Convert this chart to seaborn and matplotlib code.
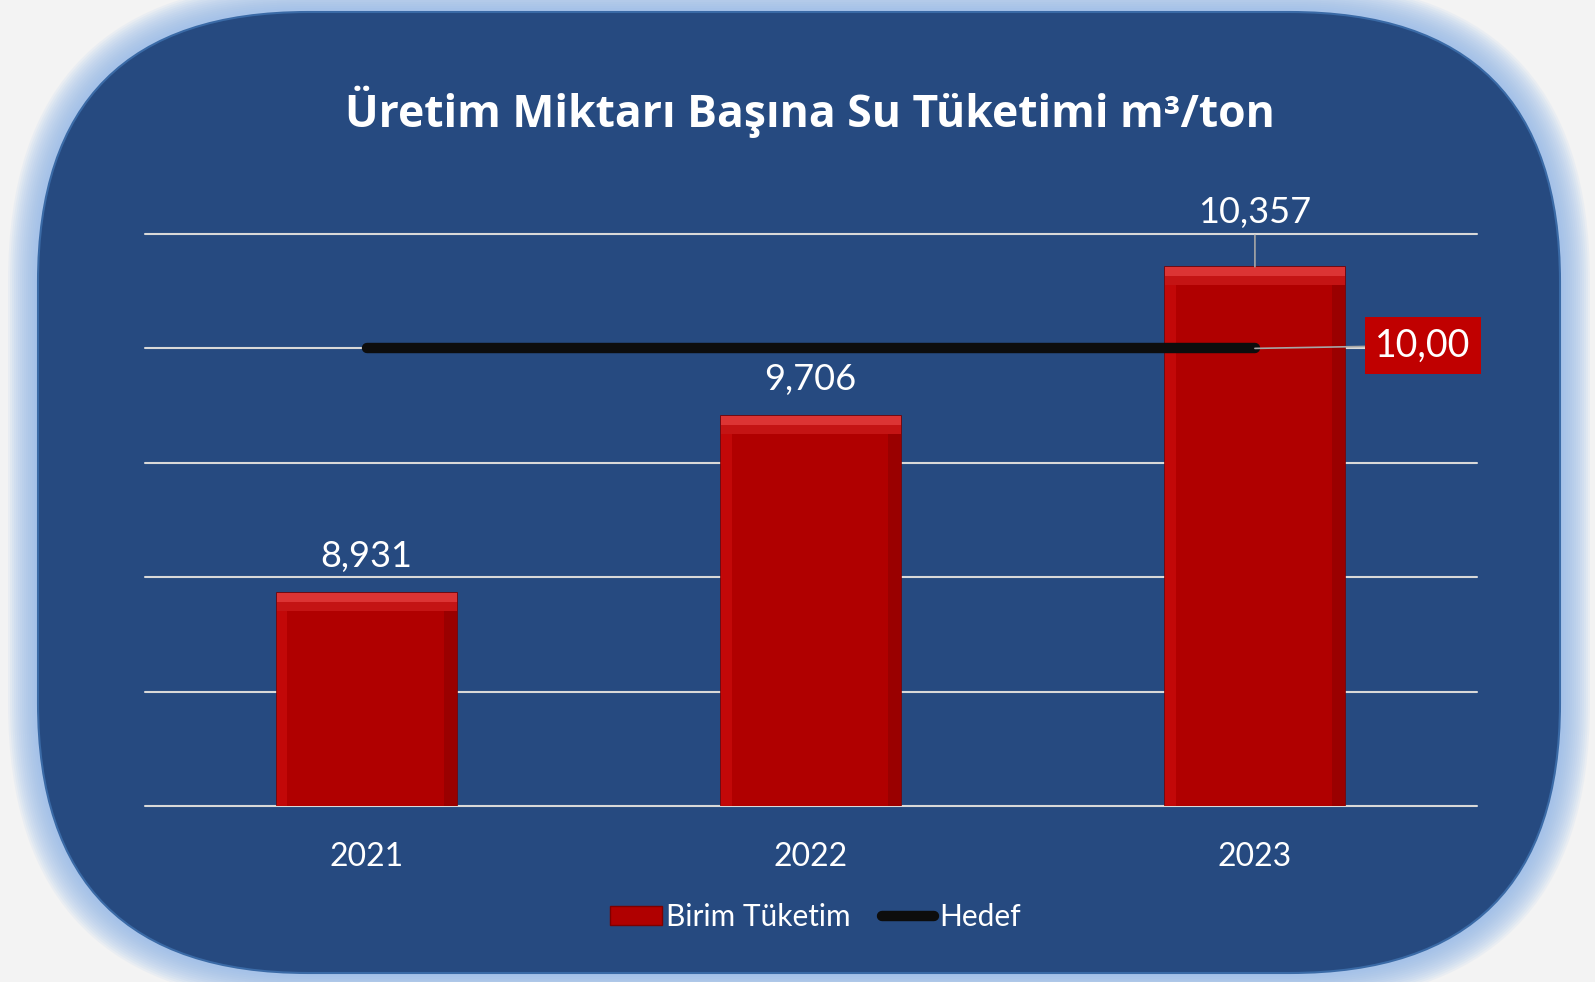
import matplotlib as mpl
mpl.use('agg')
import matplotlib.pyplot as plt
from matplotlib.patches import FancyBboxPatch, Rectangle, Patch
from matplotlib.lines import Line2D
import pandas as pd
import seaborn as sns

# data
years = ['2021', '2022', '2023']
birim_tuketim = [8.931, 9.706, 10.357]
hedef = [10.00, 10.00, 10.00]
title = 'Üretim Miktarı Başına Su Tüketimi m³/ton'

W, H = 1595, 982
page_bg = '#f3f3f3'
panel = '#264a80'
bar_red = '#b00000'

sns.set_theme(style='white')
plt.rcParams['font.family'] = ['Lato', 'DejaVu Sans']

fig = plt.figure(figsize=(W / 100, H / 100), dpi=100, facecolor=page_bg)

# background panel with soft glow, in pixel coords
bg = fig.add_axes([0, 0, 1, 1], zorder=0)
bg.set_xlim(0, W)
bg.set_ylim(H, 0)
bg.axis('off')
x0, y0, x1, y1, r = 38, 12, 1560, 973, 270
for i in range(14):
    pad = 30 - i * 2
    bg.add_patch(FancyBboxPatch((x0 - pad, y0 - pad), x1 - x0 + 2 * pad, y1 - y0 + 2 * pad,
                                boxstyle=f'round,pad=0,rounding_size={r + pad}',
                                fc='#8fb6e8', ec='none', alpha=0.09))
bg.add_patch(FancyBboxPatch((x0, y0), x1 - x0, y1 - y0,
                            boxstyle=f'round,pad=0,rounding_size={r}',
                            fc=panel, ec='#3a6aa6', lw=1.5))

# chart
df = pd.DataFrame({'year': years, 'value': birim_tuketim, 'hedef': hedef})
ax = fig.add_axes([144.5 / W, 1 - 806 / H, (1477 - 144.5) / W, (806 - 234) / H], zorder=1)
ax.set_facecolor('none')
ax.set_axisbelow(True)

sns.barplot(data=df, x='year', y='value', color=bar_red, width=0.405,
            saturation=1, edgecolor='#7d0000', linewidth=1.2, ax=ax, zorder=2)

# bevel shading on bars
for p in list(ax.patches):
    bx, bw, bh = p.get_x(), p.get_width(), p.get_height()
    ax.add_patch(Rectangle((bx, 0), bw * 0.06, bh, fc='#c20808', ec='none', zorder=2.3))
    ax.add_patch(Rectangle((bx + bw * 0.93, 0), bw * 0.07, bh, fc='#9a0000', ec='none', zorder=2.3))
    ax.add_patch(Rectangle((bx, bh - 0.08), bw, 0.08, fc='#c41414', ec='none', zorder=2.4))
    ax.add_patch(Rectangle((bx, bh - 0.04), bw, 0.04, fc='#dc3434', ec='none', zorder=2.5))

sns.lineplot(x=range(len(years)), y=df['hedef'], color='#0d0d0d', lw=7.5,
             solid_capstyle='round', ax=ax, zorder=3)

ax.set_xlim(-0.5, 2.5)
ax.set_ylim(8, 10.5)
ax.set_yticks([8, 8.5, 9, 9.5, 10, 10.5])
ax.set_yticklabels([])
ax.grid(axis='y', color='#d9d9d9', lw=1.5)
for gl in ax.get_ygridlines():
    gl.set_clip_on(False)
ax.grid(axis='x', visible=False)
sns.despine(ax=ax, left=True, bottom=True)
ax.tick_params(length=0, axis='x', pad=26, labelsize=23, labelcolor='white')
ax.tick_params(length=0, axis='y')
ax.set_xlabel('')
ax.set_ylabel('')

# value labels
for i, v in enumerate(birim_tuketim):
    txt = f'{v:.3f}'.replace('.', ',')
    if i == len(birim_tuketim) - 1:
        ax.annotate(txt, xy=(i, v), xytext=(0, 54), textcoords='offset pixels',
                    ha='center', va='center', color='white', fontsize=26,
                    arrowprops=dict(arrowstyle='-', color='#a6a6a6', lw=1.2,
                                    shrinkA=2, shrinkB=0))
    else:
        ax.annotate(txt, xy=(i, v), xytext=(0, 36), textcoords='offset pixels',
                    ha='center', va='center', color='white', fontsize=26)

# target label
ax.annotate(f'{hedef[-1]:.2f}'.replace('.', ','), xy=(len(hedef) - 1, hedef[-1]),
            xytext=(168, 3), textcoords='offset pixels', ha='center', va='center',
            color='white', fontsize=27,
            bbox=dict(boxstyle='square,pad=0.28', fc='#c00000', ec='none'),
            arrowprops=dict(arrowstyle='-', color='#a6a6a6', lw=1.2, shrinkA=0, shrinkB=0),
            zorder=4)

# title
fig.text(0.508, 1 - 112 / H, title, ha='center', va='center', color='white',
         fontsize=32, fontweight='bold', family=['Open Sans', 'DejaVu Sans'])

# legend
handles = [Patch(fc=bar_red, ec='#7d0000', lw=1),
           Line2D([0], [0], color='#0d0d0d', lw=7.5, solid_capstyle='round')]
fig.legend(handles, ['Birim Tüketim', 'Hedef'], loc='center', bbox_to_anchor=(0.511, 1 - 917 / H),
           ncol=2, frameon=False, fontsize=21.5, labelcolor='white', handlelength=1.75,
           handleheight=0.6, handletextpad=0.15, columnspacing=1.05)

plt.savefig('out.png', dpi=100, facecolor=page_bg)
